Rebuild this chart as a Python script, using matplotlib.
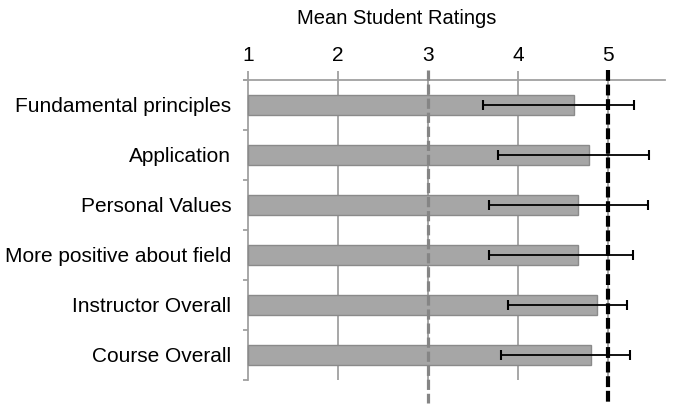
import matplotlib
matplotlib.use("Agg")
import matplotlib.pyplot as plt
import matplotlib.transforms as mtransforms

categories = ["Fundamental principles", "Application", "Personal Values",
              "More positive about field", "Instructor Overall", "Course Overall"]
means = [4.62, 4.79, 4.67, 4.67, 4.88, 4.81]
err_low = [3.61, 3.78, 3.68, 3.68, 3.89, 3.81]
err_high = [5.29, 5.46, 5.44, 5.28, 5.21, 5.24]
xticks = [1, 2, 3, 4, 5]
neutral_ref = 3
target_ref = 5

plt.rcParams['font.family'] = ['Liberation Sans', 'DejaVu Sans']

W, H = 676, 418
fig = plt.figure(figsize=(W / 100, H / 100), dpi=100)
ax = fig.add_axes([244 / W, 1 - 380 / H, 421 / W, 300 / H])

y = list(range(len(categories)))
base = xticks[0]
widths = [m - base for m in means]
ax.barh(y, widths, left=base, height=0.4, color="#a6a6a6",
        edgecolor="#8a8a8a", linewidth=1.0, zorder=3)

xerr = [[m - lo for m, lo in zip(means, err_low)],
        [hi - m for m, hi in zip(means, err_high)]]
ax.errorbar(means, y, xerr=xerr, fmt="none", ecolor="black",
            elinewidth=1.3, capsize=3.6, capthick=1.5, zorder=5)

ax.set_xlim(0.956, 5.633)
ax.set_ylim(len(categories) - 0.5, -0.5)

# vertical grid
for xv in xticks[1:]:
    ax.axvline(xv, color="#a0a0a0", linewidth=1.3, zorder=1)

trans = mtransforms.blended_transform_factory(ax.transData, ax.transAxes)
ax.plot([neutral_ref, neutral_ref], [1.033, -0.077], transform=trans,
        color="#858585", linewidth=2.3, linestyle=(0, (3.2, 1.2)),
        clip_on=False, zorder=4)
ax.plot([target_ref, target_ref], [1.033, -0.077], transform=trans,
        color="black", linewidth=3.0, linestyle=(0, (2.6, 0.9)),
        clip_on=False, zorder=6)

# axes styling
for s in ["right", "bottom"]:
    ax.spines[s].set_visible(False)
ax.spines["top"].set_color("#a0a0a0")
ax.spines["top"].set_linewidth(1.3)
ax.spines["left"].set_position(("data", base))
ax.spines["left"].set_color("#a0a0a0")
ax.spines["left"].set_linewidth(1.3)

ax.xaxis.tick_top()
ax.set_xticks(xticks)
ax.set_xticklabels([str(t) for t in xticks], fontsize=15)
ax.tick_params(axis="x", which="major", direction="out", length=6.5,
               width=1.3, color="#a0a0a0", pad=4, labelcolor="black")

ax.set_yticks([i - 0.5 for i in range(len(categories) + 1)])
ax.set_yticklabels([])
ax.tick_params(axis="y", which="major", direction="out", length=3.6,
               width=1.3, color="#a0a0a0")
ax.set_yticks(y, minor=True)
ax.set_yticklabels(categories, minor=True, fontsize=15)
ax.tick_params(axis="y", which="minor", length=0, pad=12, labelcolor="black")

fig.text(397 / W, 1 - 18 / H, "Mean Student Ratings", ha="center",
         va="center", fontsize=14.5, color="black")

fig.savefig("out.png", dpi=100)
